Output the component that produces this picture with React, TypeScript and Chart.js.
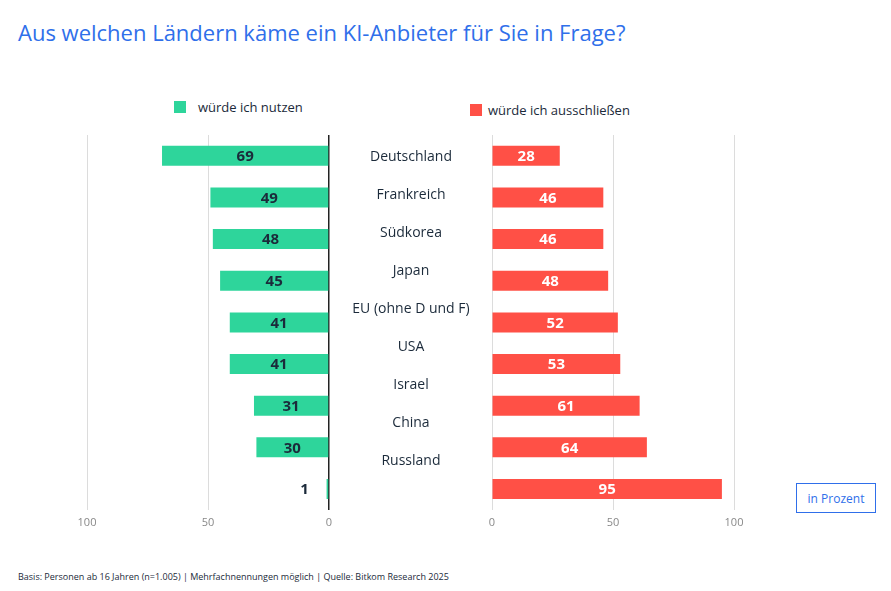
import React, { useEffect, useRef } from "react";
import { Chart, registerables } from "chart.js";
Chart.register(...registerables);

const countries = ["Deutschland", "Frankreich", "Südkorea", "Japan", "EU (ohne D und F)", "USA", "Israel", "China", "Russland"];
const useValues = [69, 49, 48, 45, 41, 41, 31, 30, 1];
const excludeValues = [28, 46, 46, 48, 52, 53, 61, 64, 95];
const tickValues = [0, 50, 100];
const GREEN = "#2ed59b";
const RED = "#ff5046";
const FONT = "'Open Sans', 'Noto Sans', sans-serif";

const labelPlugin = (color: string) => ({
  id: "vlabels",
  afterDatasetsDraw(chart: any) {
    const ctx = chart.ctx;
    const meta = chart.getDatasetMeta(0);
    ctx.save();
    ctx.font = `bold 15px ${FONT}`;
    ctx.textBaseline = "middle";
    ctx.textAlign = "center";
    meta.data.forEach((el: any, i: number) => {
      const v = chart.data.datasets[0].data[i];
      const w = Math.abs(el.x - el.base);
      let x = (el.x + el.base) / 2;
      let c = color;
      if (w < 25) { x = el.x - 22; c = "#1b2a3a"; }
      ctx.fillStyle = c;
      ctx.fillText(String(v), x, el.y + 1);
    });
    ctx.restore();
  },
});

function Side({ data, color, reverse, textColor, zeroDark }: any) {
  const ref = useRef<HTMLCanvasElement>(null);
  useEffect(() => {
    const chart = new Chart(ref.current!, {
      type: "bar",
      data: { labels: countries, datasets: [{ data, backgroundColor: color, barPercentage: 0.48, categoryPercentage: 1 }] },
      options: {
        animation: false,
        responsive: false,
        indexAxis: "y",
        layout: { padding: { left: 27, right: 21, top: 0, bottom: 0 } },
        plugins: { legend: { display: false }, tooltip: { enabled: false } },
        scales: {
          y: { display: false },
          x: {
            min: 0, max: 100, reverse,
            afterBuildTicks: (s: any) => { s.ticks = tickValues.map((v) => ({ value: v })); },
            border: { display: false },
            grid: {
              drawTicks: false,
              color: (c: any) => (zeroDark && c.tick && c.tick.value === 0 ? "#222" : "#dcdcdc"),
              lineWidth: (c: any) => (zeroDark && c.tick && c.tick.value === 0 ? 1.5 : 1),
            },
            ticks: { color: "#888", font: { size: 11, family: FONT }, padding: 6 },
          },
        },
      },
      plugins: [labelPlugin(textColor)],
    });
    return () => chart.destroy();
  }, []);
  return <canvas ref={ref} width={290} height={400} />;
}

export default function App() {
  return (
    <div style={{ position: "fixed", left: 0, top: 0, width: 891, height: 591, background: "#fff", fontFamily: FONT, color: "#1b2a3a" }}>
      <div style={{ position: "absolute", left: 18, top: 17, fontSize: 22, color: "#2f6fea" }}>Aus welchen Ländern käme ein KI-Anbieter für Sie in Frage?</div>
      <div style={{ position: "absolute", left: 174, top: 101, width: 12, height: 12, background: GREEN }} />
      <div style={{ position: "absolute", left: 198, top: 98, fontSize: 13 }}>würde ich nutzen</div>
      <div style={{ position: "absolute", left: 470, top: 104, width: 12, height: 12, background: RED }} />
      <div style={{ position: "absolute", left: 488, top: 101, fontSize: 13 }}>würde ich ausschließen</div>
      <div style={{ position: "absolute", left: 60, top: 135 }}>
        <Side data={useValues} color={GREEN} reverse={true} textColor="#1b2a3a" zeroDark={true} />
      </div>
      <div style={{ position: "absolute", left: 465, top: 135 }}>
        <Side data={excludeValues} color={RED} reverse={false} textColor="#ffffff" zeroDark={false} />
      </div>
      {countries.map((c, i) => (
        <div key={c} style={{ position: "absolute", left: 331, width: 160, textAlign: "center", top: 146 + i * 38, fontSize: 14 }}>{c}</div>
      ))}
      <div style={{ position: "absolute", left: 796, top: 483, width: 78, height: 28, border: "1px solid #2f6fea", color: "#2f6fea", fontSize: 12, display: "flex", alignItems: "center", justifyContent: "center" }}>in Prozent</div>
      <div style={{ position: "absolute", left: 18, top: 570, fontSize: 9 }}>Basis: Personen ab 16 Jahren (n=1.005) | Mehrfachnennungen möglich | Quelle: Bitkom Research 2025</div>
    </div>
  );
}
